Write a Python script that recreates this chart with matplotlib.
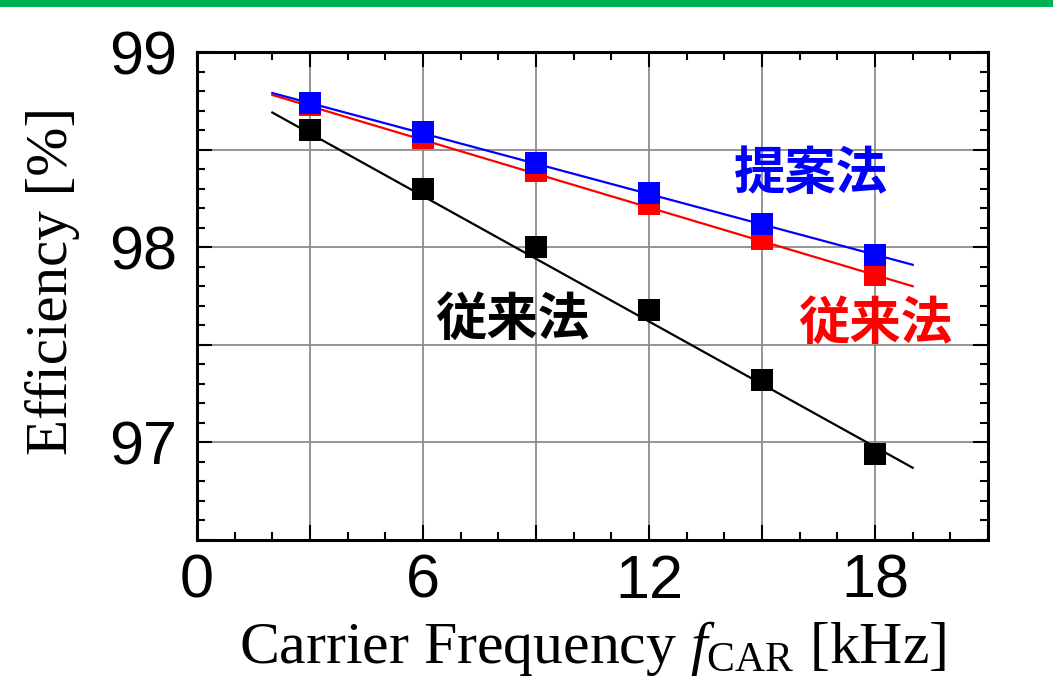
import matplotlib.pyplot as plt
import numpy as np
from matplotlib.patches import Rectangle
from matplotlib.ticker import MultipleLocator

# carrier frequency [kHz]
freq = [3, 6, 9, 12, 15, 18]

# measured efficiency [%]
eff_proposed = [98.74, 98.59, 98.43, 98.28, 98.12, 97.96]
eff_conv_red = [98.73, 98.56, 98.39, 98.22, 98.04, 97.86]
eff_conv_black = [98.60, 98.30, 98.00, 97.68, 97.32, 96.94]

# fitted trend lines (end points)
fit_x = [2, 19]
fit_proposed = [98.79, 97.91]
fit_conv_red = [98.78, 97.80]
fit_conv_black = [98.69, 96.87]

x_tick_vals = [0, 3, 6, 9, 12, 15, 18, 21]
x_tick_labels = ['0', '', '6', '', '12', '', '18', '']
y_tick_vals = [96.5, 97, 97.5, 98, 98.5, 99]
y_tick_labels = ['', '97', '', '98', '', '99']

jp_font = ['Noto Sans CJK JP', 'DejaVu Sans']

plt.rcParams['mathtext.fontset'] = 'custom'
plt.rcParams['mathtext.it'] = 'Liberation Serif:italic'
plt.rcParams['mathtext.rm'] = 'Liberation Serif'

fig = plt.figure(figsize=(10.53, 6.8), dpi=100)
ax = fig.add_axes([0.1871, 0.2059, 0.7512, 0.7176])

# green band at top
fig.add_artist(Rectangle((0, 0.99), 1, 0.01, transform=fig.transFigure,
                         color='#00B050', lw=0))

ax.grid(True, color='#8c8c8c', linewidth=1.3, zorder=0)
ax.set_axisbelow(True)

# lines
ax.plot(fit_x, fit_conv_black, color='black', lw=1.6, zorder=2)
ax.plot(fit_x, fit_conv_red, color='red', lw=1.6, zorder=2)
ax.plot(fit_x, fit_proposed, color='blue', lw=1.6, zorder=2)

# markers
ms = 15.5
ax.plot(freq, eff_conv_black, 's', color='black', ms=ms, mew=0, zorder=3)
ax.plot(freq, eff_conv_red, 's', color='red', ms=ms, mew=0, zorder=3)
ax.plot(freq, eff_proposed, 's', color='blue', ms=ms, mew=0, zorder=4)

# annotations
ax.text(16.3, 98.38, '提案法', color='blue', fontsize=37, fontweight='bold',
        family=jp_font, ha='center', va='center')
ax.text(18.0, 97.61, '従来法', color='red', fontsize=37, fontweight='bold',
        family=jp_font, ha='center', va='center')
ax.text(8.36, 97.63, '従来法', color='black', fontsize=37, fontweight='bold',
        family=jp_font, ha='center', va='center')

ax.set_xlim(0, 21)
ax.set_ylim(96.5, 99)
ax.set_xticks(x_tick_vals)
ax.set_xticklabels(x_tick_labels, fontsize=44, family='Liberation Sans')
ax.set_yticks(y_tick_vals)
ax.set_yticklabels(y_tick_labels, fontsize=44, family='Liberation Sans')
ax.xaxis.set_minor_locator(MultipleLocator(1))
ax.yaxis.set_minor_locator(MultipleLocator(0.1))
ax.tick_params(which='major', direction='in', length=11, width=1.5,
               top=True, right=True)
ax.tick_params(axis='x', which='major', pad=10)
ax.tick_params(axis='y', which='major', pad=14)
ax.tick_params(which='minor', direction='in', length=6, width=1.5,
               top=True, right=True)
for s in ax.spines.values():
    s.set_linewidth(2.2)

ax.set_xlabel(r'Carrier Frequency $f_{\rm CAR}$ [kHz]', fontsize=43,
              family='Liberation Serif', labelpad=6)
ax.set_ylabel('Efficiency [%]', fontsize=42.5, family='Liberation Serif')
ax.yaxis.set_label_coords(-0.148, 0.53)

fig.savefig('out.png', dpi=100)
